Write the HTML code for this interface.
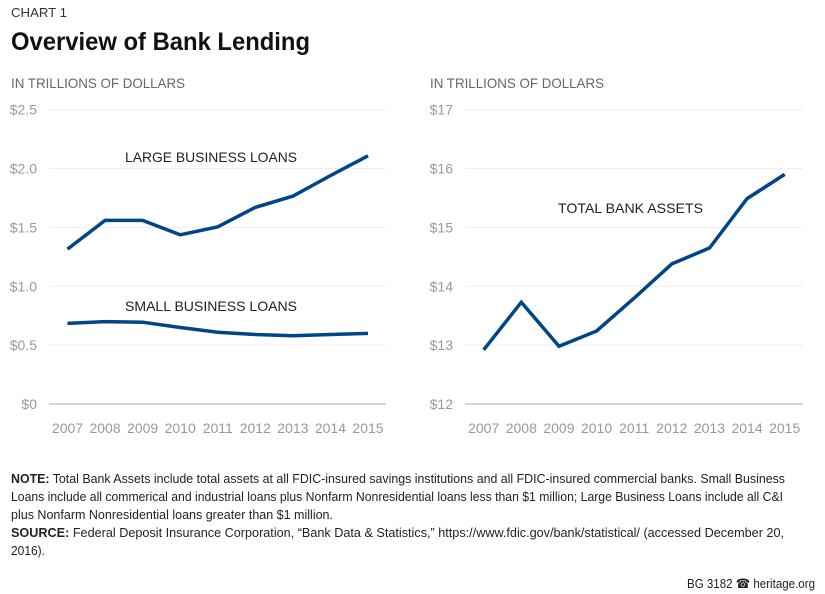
<!DOCTYPE html>
<html><head><meta charset="utf-8"><style>
html,body{margin:0;padding:0;background:#fff;}
svg{display:block;font-family:"Liberation Sans",sans-serif;}
</style></head><body>
<svg id="chart" width="825" height="594" viewBox="0 0 825 594" xmlns="http://www.w3.org/2000/svg">
<text x="11" y="17" font-size="13" fill="#333" textLength="56" lengthAdjust="spacingAndGlyphs">CHART 1</text>
<text x="11" y="50" font-size="25" font-weight="bold" fill="#111" textLength="299" lengthAdjust="spacingAndGlyphs">Overview of Bank Lending</text>
<text x="11" y="88" font-size="14" fill="#666" textLength="174" lengthAdjust="spacingAndGlyphs">IN TRILLIONS OF DOLLARS</text>
<text x="430" y="88" font-size="14" fill="#666" textLength="174" lengthAdjust="spacingAndGlyphs">IN TRILLIONS OF DOLLARS</text>
<g id="left"></g>
<g id="right"></g>
<text x="125" y="162" font-size="14" fill="#222" textLength="172" lengthAdjust="spacingAndGlyphs">LARGE BUSINESS LOANS</text>
<text x="125" y="311" font-size="14" fill="#222" textLength="172" lengthAdjust="spacingAndGlyphs">SMALL BUSINESS LOANS</text>
<text x="558" y="213" font-size="14" fill="#222" textLength="145" lengthAdjust="spacingAndGlyphs">TOTAL BANK ASSETS</text>
<g font-size="12.5" fill="#222">
<text x="11" y="483" textLength="774" lengthAdjust="spacingAndGlyphs"><tspan font-weight="bold">NOTE:</tspan> Total Bank Assets include total assets at all FDIC-insured savings institutions and all FDIC-insured commercial banks. Small Business</text>
<text x="11" y="501" textLength="772" lengthAdjust="spacingAndGlyphs">Loans include all commerical and industrial loans plus Nonfarm Nonresidential loans less than $1 million; Large Business Loans include all C&amp;I</text>
<text x="11" y="519" textLength="322" lengthAdjust="spacingAndGlyphs">plus Nonfarm Nonresidential loans greater than $1 million.</text>
<text x="11" y="537" textLength="773" lengthAdjust="spacingAndGlyphs"><tspan font-weight="bold">SOURCE:</tspan> Federal Deposit Insurance Corporation, “Bank Data &amp; Statistics,” https://www.fdic.gov/bank/statistical/ (accessed December 20,</text>
<text x="11" y="555" textLength="34" lengthAdjust="spacingAndGlyphs">2016).</text>
</g>
<text x="815" y="588" font-size="13" fill="#222" text-anchor="end" textLength="128" lengthAdjust="spacingAndGlyphs">BG 3182 ☎ heritage.org</text>
</svg>
<script>
const years = ["2007","2008","2009","2010","2011","2012","2013","2014","2015"];
const largeLoans = [1.316, 1.56, 1.56, 1.437, 1.505, 1.67, 1.766, 1.94, 2.108];
const smallLoans = [0.685, 0.70, 0.695, 0.65, 0.61, 0.59, 0.58, 0.59, 0.60];
const totalAssets = [12.92, 13.73, 12.98, 13.24, 13.80, 14.38, 14.65, 15.49, 15.90];
const leftTicks = [0, 0.5, 1.0, 1.5, 2.0, 2.5];
const leftTickLabels = ["$0","$0.5","$1.0","$1.5","$2.0","$2.5"];
const rightTicks = [12, 13, 14, 15, 16, 17];
const rightTickLabels = ["$12","$13","$14","$15","$16","$17"];

const NS = "http://www.w3.org/2000/svg";
function mk(tag, attrs, parent){const e=document.createElementNS(NS,tag);for(const k in attrs)e.setAttribute(k,attrs[k]);parent.appendChild(e);return e;}

function panel(g, cfg){
  const yS = v => cfg.yBottom - (v - cfg.min)/(cfg.max - cfg.min)*(cfg.yBottom - cfg.yTop);
  const xS = i => cfg.x0 + i*(cfg.x1 - cfg.x0)/(years.length-1);
  cfg.ticks.forEach((t,i)=>{
    const y = yS(t);
    const ln = mk("line",{x1:cfg.gx0,x2:cfg.gx1,y1:y,y2:y,stroke:i===0?"#bbb":"#eee","stroke-width":i===0?1.2:1},g);
    
    
    const tx = mk("text",{x:cfg.labelX,y:y+5,"font-size":14,fill:"#999","text-anchor":"end"},g);
    tx.textContent = cfg.labels[i];
    
    
  });
  years.forEach((yr,i)=>{
    const tx = mk("text",{x:xS(i),y:433,"font-size":14,fill:"#999","text-anchor":"middle"},g);
    tx.textContent = yr;
    
    
  });
  cfg.series.forEach(s=>{
    const pts = s.vals.map((v,i)=>xS(i).toFixed(1)+","+yS(v).toFixed(1)).join(" ");
    const pl = mk("polyline",{points:pts,fill:"none",stroke:"#004687","stroke-width":3.5,"stroke-linejoin":"miter"},g);
    
    
  });
}
panel(document.getElementById("left"),{min:0,max:2.5,yTop:109.7,yBottom:404,x0:67.5,x1:368,gx0:49,gx1:386,labelX:37,ticks:leftTicks,labels:leftTickLabels,
  series:[{name:"large-business-loans-line",vals:largeLoans},{name:"small-business-loans-line",vals:smallLoans}]});
panel(document.getElementById("right"),{min:12,max:17,yTop:109.7,yBottom:404,x0:483.7,x1:784.7,gx0:465,gx1:803,labelX:453,ticks:rightTicks,labels:rightTickLabels,
  series:[{name:"total-bank-assets-line",vals:totalAssets}]});
</script>
</body></html>
